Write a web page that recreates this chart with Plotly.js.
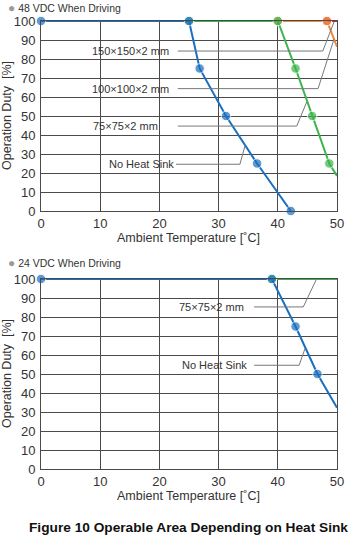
<!DOCTYPE html>
<html>
<head>
<meta charset="utf-8">
<script src="https://cdn.plot.ly/plotly-3.0.1.min.js"></script>
<style>html,body{margin:0;padding:0;background:#fff;}#chart{width:350px;height:535px;}</style>
</head>
<body>
<div id="chart"></div>
<script>
// ---------- DATA ----------
// Chart 1: 48 VDC
const top_nohs_x = [0, 25, 26.8, 31.25, 36.5, 42.2];
const top_nohs_y = [100, 100, 75, 50, 25, 0];
const top_75_x = [25, 40, 43, 45.8, 48.7, 50];
const top_75_y = [100, 100, 75, 50, 25, 18.5];
const top_100_x = [40, 48.3, 50];
const top_100_y = [100, 100, 86.5];
const top_150_x = [48.3, 50];
const top_150_y = [100, 100];
// Chart 2: 24 VDC
const bot_nohs_x = [0, 39, 43, 46.7, 50];
const bot_nohs_y = [100, 100, 75, 50, 32.3];
const bot_75_x = [39, 50];
const bot_75_y = [100, 100];

const xTicks = [0, 10, 20, 30, 40, 50];
const yTicks = [0, 10, 20, 30, 40, 50, 60, 70, 80, 90, 100];

// label texts and leader paths (data coordinates)
const topLabels = ["150×150×2 mm", "100×100×2 mm", "75×75×2 mm", "No Heat Sink"];
const topLabelX = [21.96, 21.96, 20.1, 22.8];
const topLabelY = [84.2, 64.4, 44.7, 24.6];
const topLeaderX = [[23.1, 47.6, 49.5], [23.1, 46.8, 49.5], [23.1, 43.2, 44.9], [22.8, 33.6, 34.5]];
const topLeaderY = [[84.2, 84.2, 99.5], [64.4, 64.4, 90.5], [44.7, 44.7, 57.5], [24.6, 24.6, 34.7]];

const botLabels = ["75×75×2 mm", "No Heat Sink"];
const botLabelX = [34.6, 35.2];
const botLabelY = [85.3, 54.6];
const botLeaderX = [[36.0, 44.3, 46.5], [36.0, 43.6, 44.6]];
const botLeaderY = [[85.3, 85.3, 99.7], [54.6, 54.6, 63.4]];

const titles = ["48 VDC When Driving", "24 VDC When Driving"];
const xTitle = "Ambient Temperature [˚C]";
const yTitle = "Operation Duty  [%]";
const caption = "Figure 10 Operable Area Depending on Heat Sink";

// ---------- STYLE ----------
const C = {blue: "#1b6fc0", green: "#3cb44b", orange: "#ef873a", red: "#e8222c"};
const W = 350, H = 535, ML = 41, MR = 13, MT = 21, MB = 66;
const PW = W - ML - MR, PH = H - MT - MB;
const px = x => (x - ML) / PW;
const py = y => (H - MB - y) / PH;

function series(x, y, color, xa, ya) {
  return {
    x: x, y: y, xaxis: xa, yaxis: ya, type: "scatter", mode: "lines+markers",
    line: {color: color, width: 2},
    marker: {color: color, size: x.map(v => v < 50 ? 9.5 : 0)},
    cliponaxis: false, hoverinfo: "none", showlegend: false
  };
}

const traces = [
  series(top_150_x, top_150_y, C.red, "x", "y"),
  series(top_100_x, top_100_y, C.orange, "x", "y"),
  series(top_75_x, top_75_y, C.green, "x", "y"),
  series(top_nohs_x, top_nohs_y, C.blue, "x", "y"),
  series(bot_75_x, bot_75_y, C.green, "x2", "y2"),
  series(bot_nohs_x, bot_nohs_y, C.blue, "x2", "y2")
];

const tickFont = {family: "Liberation Sans Narrow, Arial Narrow, sans-serif", size: 13, color: "#333"};
function xAxis(anchor) {
  return {
    anchor: anchor, domain: [0, 1], range: [0, 50], tickvals: xTicks, ticks: "",
    showgrid: true, gridcolor: "#4a4a4a", gridwidth: 1, zeroline: false,
    showline: true, linecolor: "#4a4a4a", linewidth: 1, mirror: true,
    tickfont: tickFont, fixedrange: true
  };
}
function yAxis(anchor, dom) {
  return {
    anchor: anchor, domain: dom, range: [0, 100], tickvals: yTicks, ticks: "",
    showgrid: true, gridcolor: "#4a4a4a", gridwidth: 1, zeroline: false,
    showline: true, linecolor: "#4a4a4a", linewidth: 1, mirror: true,
    tickfont: tickFont, fixedrange: true, ticklabelstandoff: 2
  };
}

const labelFont = {family: "Liberation Sans, Arial, sans-serif", size: 11, color: "#333"};
const annotations = [];
const shapes = [];
function addLabels(texts, lx, ly, lpx, lpy, xr, yr) {
  texts.forEach((t, i) => {
    annotations.push({xref: xr, yref: yr, x: lx[i], y: ly[i], text: t, showarrow: false,
      xanchor: "right", yanchor: "middle", font: labelFont});
    const pts = lpx[i];
    for (let k = 0; k < pts.length - 1; k++) {
      shapes.push({type: "line", xref: xr, yref: yr, x0: pts[k], y0: lpy[i][k], x1: pts[k + 1], y1: lpy[i][k + 1],
        line: {color: "#777", width: 1}});
    }
  });
}
addLabels(topLabels, topLabelX, topLabelY, topLeaderX, topLeaderY, "x", "y");
addLabels(botLabels, botLabelX, botLabelY, botLeaderX, botLeaderY, "x2", "y2");

const titleFont = {family: "Liberation Sans, Arial, sans-serif", size: 10.5, color: "#333"};
const axTitleFont = {family: "Liberation Sans, Arial, sans-serif", size: 12.5, color: "#333"};
[[titles[0], 0, 211, 116], [titles[1], 255, 469, 374]].forEach(([t, ty, axy, ycen]) => {
  annotations.push({xref: "paper", yref: "paper", x: px(7), y: py(ty), xanchor: "left", yanchor: "top",
    text: '<span style="color:#9a9a9a;font-size:12px">●</span> ' + t, showarrow: false, font: titleFont,
    borderpad: 0});
  annotations.push({xref: "paper", yref: "paper", x: px(188), y: py(axy + 27), xanchor: "center", yanchor: "middle",
    text: xTitle, showarrow: false, font: axTitleFont});
  annotations.push({xref: "paper", yref: "paper", x: px(7), y: py(ycen), xanchor: "center", yanchor: "middle",
    text: yTitle, textangle: -90, showarrow: false, font: axTitleFont});
});
annotations.push({xref: "paper", yref: "paper", x: px(188), y: py(527), xanchor: "center", yanchor: "middle",
  text: "<b>" + caption + "</b>", showarrow: false,
  font: {family: "Liberation Sans, Arial, sans-serif", size: 13.7, color: "#111"}});

const layout = {
  width: W, height: H, margin: {l: ML, r: MR, t: MT, b: MB, pad: 0},
  paper_bgcolor: "#fff", plot_bgcolor: "#fff", showlegend: false,
  xaxis: xAxis("y"), yaxis: yAxis("x", [py(211), 1]),
  xaxis2: xAxis("y2"), yaxis2: yAxis("x2", [0, py(279)]),
  annotations: annotations, shapes: shapes
};

Plotly.newPlot("chart", traces, layout, {staticPlot: true, displayModeBar: false});
</script>
</body>
</html>
